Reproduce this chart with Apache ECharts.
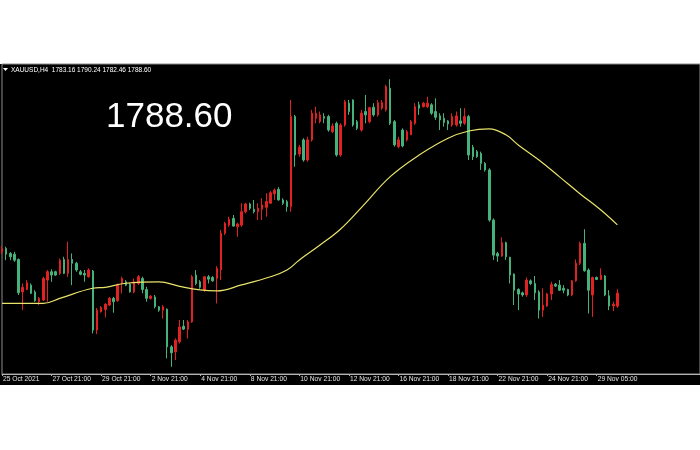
<!DOCTYPE html>
<html>
<head>
<meta charset="utf-8">
<script src="https://cdn.jsdelivr.net/npm/echarts@6/dist/echarts.min.js"></script>
<style>
html,body{margin:0;padding:0;background:#fff;}
#c{width:700px;height:450px;background:linear-gradient(#fff 0,#fff 64px,#000 64px,#000 385px,#fff 385px);}
</style>
</head>
<body>
<div id="c"></div>
<script>
// ---- data (XAUUSD H4) ----
const xTickLabels = ['25 Oct 2021','27 Oct 21:00','29 Oct 21:00','2 Nov 21:00','4 Nov 21:00','8 Nov 21:00','10 Nov 21:00','12 Nov 21:00','16 Nov 21:00','18 Nov 21:00','22 Nov 21:00','24 Nov 21:00','29 Nov 05:00'];
const tradingDays = ['25 Oct','26 Oct','27 Oct','28 Oct','29 Oct','1 Nov','2 Nov','3 Nov','4 Nov','5 Nov','8 Nov','9 Nov','10 Nov','11 Nov','12 Nov','15 Nov','16 Nov','17 Nov','18 Nov','19 Nov','22 Nov','23 Nov','24 Nov','25 Nov','26 Nov','29 Nov','30 Nov'];
const barsPerDay = [1,6,6,6,6,6,6,6,6,6,6,6,6,6,6,6,6,6,6,6,6,6,6,6,4,6,1];
const hourSlots = ['01:00','05:00','09:00','13:00','17:00','21:00'];

const opens = [1805.8,1807.2,1805.1,1804.8,1802.6,1789.1,1790.1,1791.9,1789.1,1785.0,
1785.7,1794.0,1797.5,1797.5,1796.8,1802.6,1796.8,1802.6,1801.0,1797.5,
1796.8,1795.4,1797.8,1773.2,1780.8,1781.8,1783.6,1786.4,1785.4,1792.6,
1793.3,1792.3,1789.1,1792.6,1794.7,1790.1,1786.4,1787.0,1782.9,1781.5,
1781.9,1766.2,1764.1,1768.3,1774.8,1773.5,1776.6,1796.1,1793.3,1789.8,
1795.4,1795.1,1794.7,1798.2,1813.5,1816.9,1819.7,1816.2,1816.9,1822.5,
1825.7,1823.5,1822.5,1823.5,1824.3,1826.0,1829.9,1831.8,1827.4,1826.7,
1824.6,1862.1,1846.5,1852.4,1844.0,1852.4,1861.4,1860.0,1862.1,1862.1,
1855.8,1859.3,1846.1,1858.6,1867.7,1869.0,1860.0,1856.5,1864.2,1860.0,
1866.0,1862.8,1865.6,1864.9,1873.9,1860.0,1849.6,1856.5,1852.4,1854.5,
1859.3,1867.0,1866.2,1866.2,1867.0,1864.2,1862.4,1861.4,1860.3,1858.6,
1858.6,1860.3,1859.3,1862.1,1849.3,1847.5,1846.8,1842.6,1839.9,1819.0,
1805.1,1804.0,1809.6,1803.5,1796.5,1790.1,1788.7,1787.8,1793.7,1792.6,
1789.1,1781.5,1783.2,1788.2,1792.3,1791.9,1790.6,1790.1,1787.8,1793.7,
1801.0,1809.3,1798.2,1787.8,1795.1,1794.3,1795.7,1787.5,1783.2,1783.16];
const closes = [1807.2,1804.8,1803.7,1802.3,1788.7,1791.0,1792.9,1788.5,1785.4,1786.4,
1794.7,1797.5,1796.1,1796.1,1802.3,1796.8,1802.6,1801.0,1798.2,1796.4,
1796.1,1798.2,1773.2,1781.5,1782.6,1784.0,1786.4,1785.0,1791.9,1794.7,
1791.9,1789.1,1793.3,1795.4,1790.1,1786.4,1787.3,1782.9,1781.5,1782.9,
1766.2,1763.7,1769.0,1774.5,1773.6,1776.6,1795.4,1792.6,1791.0,1795.4,
1794.4,1793.7,1798.9,1813.5,1817.6,1819.3,1816.5,1817.4,1822.5,1825.7,
1823.9,1822.5,1823.9,1825.3,1826.7,1830.4,1831.5,1827.4,1826.0,1824.6,
1862.1,1846.1,1849.3,1844.0,1852.4,1863.5,1863.5,1862.8,1861.4,1856.5,
1858.2,1846.1,1858.6,1868.3,1864.2,1858.6,1857.2,1863.5,1862.8,1865.8,
1862.8,1867.9,1867.9,1874.6,1859.3,1850.3,1852.4,1849.9,1855.8,1860.0,
1866.2,1865.6,1867.7,1867.7,1863.5,1861.8,1860.7,1859.6,1859.0,1862.1,
1862.4,1859.3,1862.1,1846.1,1845.4,1845.4,1842.6,1839.9,1819.0,1804.4,
1804.0,1809.6,1803.7,1796.1,1789.8,1788.2,1787.8,1794.0,1792.6,1788.7,
1781.5,1783.6,1788.2,1792.2,1791.5,1789.8,1789.8,1787.8,1793.7,1801.0,
1809.3,1797.9,1789.8,1795.1,1794.3,1796.1,1787.8,1783.2,1784.0,1788.60];
const lows = [1804.8,1802.3,1802.3,1801.6,1787.8,1781.5,1789.8,1788.2,1785.0,1783.6,
1785.3,1785.0,1793.3,1795.7,1796.1,1796.5,1795.4,1791.9,1797.5,1796.0,
1793.3,1795.0,1771.8,1771.5,1780.5,1778.5,1783.2,1780.4,1785.0,1788.5,
1791.5,1788.8,1788.5,1791.9,1788.5,1785.0,1785.9,1782.2,1780.8,1778.0,
1761.4,1757.9,1760.7,1767.6,1773.2,1769.7,1776.2,1791.9,1790.4,1789.1,
1792.6,1793.3,1784.3,1794.0,1812.8,1816.2,1816.2,1812.1,1816.2,1821.8,
1823.2,1821.8,1819.0,1819.0,1820.4,1825.7,1827.4,1827.1,1825.3,1822.5,
1822.5,1841.2,1845.4,1843.3,1843.3,1851.7,1859.3,1859.3,1859.3,1855.8,
1855.2,1845.4,1845.4,1857.9,1862.8,1857.9,1856.5,1855.8,1859.3,1859.3,
1862.1,1862.1,1864.9,1864.2,1858.6,1849.6,1848.9,1849.3,1851.7,1854.5,
1858.6,1862.8,1865.9,1865.6,1862.8,1860.7,1856.5,1857.9,1856.5,1857.9,
1857.9,1857.9,1858.6,1844.0,1844.0,1844.9,1839.9,1839.2,1818.3,1802.4,
1801.6,1803.7,1802.4,1792.6,1783.6,1781.5,1787.1,1787.0,1791.9,1785.7,
1778.0,1778.7,1782.9,1785.7,1791.1,1789.5,1788.5,1787.3,1787.3,1793.3,
1800.3,1797.5,1780.1,1778.7,1794.0,1794.0,1787.3,1781.5,1781.1,1782.46];
const highs = [1808.2,1807.9,1805.7,1805.8,1803.0,1792.6,1794.0,1792.6,1789.8,1787.0,
1795.4,1798.2,1798.5,1797.9,1803.0,1803.7,1810.0,1805.1,1801.6,1798.2,
1798.2,1798.9,1798.2,1782.4,1783.2,1784.3,1787.0,1787.0,1792.6,1795.4,
1794.0,1792.8,1794.7,1796.1,1795.4,1791.2,1787.8,1787.8,1783.2,1783.6,
1782.2,1766.9,1769.7,1777.4,1777.4,1777.4,1796.1,1798.2,1794.0,1795.7,
1796.1,1795.7,1799.8,1814.9,1818.3,1820.4,1821.1,1817.9,1826.0,1826.2,
1826.2,1827.4,1826.0,1828.1,1830.2,1831.1,1832.2,1832.7,1828.1,1827.4,
1869.0,1862.8,1850.3,1853.1,1853.7,1864.9,1866.2,1864.2,1863.5,1862.8,
1859.3,1860.0,1859.3,1869.0,1869.0,1869.3,1860.7,1864.9,1871.1,1866.2,
1867.7,1869.0,1869.0,1875.3,1877.7,1860.7,1853.7,1857.2,1856.5,1860.7,
1867.7,1868.3,1868.2,1870.4,1867.7,1869.7,1863.5,1863.5,1860.7,1863.5,
1864.2,1865.6,1865.6,1862.8,1850.3,1848.2,1847.5,1843.2,1840.6,1819.7,
1805.8,1811.8,1810.0,1803.7,1796.8,1790.6,1789.2,1795.1,1794.3,1795.7,
1789.8,1790.6,1788.7,1793.3,1792.8,1794.0,1791.9,1790.4,1794.0,1802.6,
1810.0,1815.2,1798.9,1795.4,1795.5,1798.9,1796.1,1789.8,1785.0,1790.24];
// moving average (bar index, value)
const maBars   = [0,10,14,22,25,30,38,43,48,52,58,65,69,72,77,82,87,94,101,108,113,118,122,125,130,135,140,145,149];
const maValues = [1784.3,1784.3,1786.4,1790.6,1791.0,1792.7,1793.3,1791.4,1789.9,1789.5,1792.0,1795.4,1798.2,1802.4,1808.6,1815.3,1824.2,1837.1,1846.1,1853.1,1856.1,1857.0,1854.5,1850.3,1844.0,1837.0,1829.9,1823.2,1817.0];
const totalSlots = 170;

// ---- build ----
const categories = [];
tradingDays.forEach((d, k) => {
  const n = barsPerDay[k];
  const start = (k === 0) ? 6 - n : 0;
  for (let h = start; h < start + n; h++) categories.push(d + ' ' + hourSlots[h]);
});
categories.length = Math.min(categories.length, opens.length);
while (categories.length < totalSlots) categories.push('');

const candleData = opens.map((o, i) => [o, closes[i], lows[i], highs[i]]);
const maData = maBars.map((b, k) => [b, maValues[k]]);
const tickShown = (idx) => idx % 12 === 0 && idx / 12 < xTickLabels.length;

const chart = echarts.init(document.getElementById('c'), null, {renderer: 'canvas'});
chart.setOption({
  animation: false,
  backgroundColor: 'transparent',
  grid: {left: 1, right: -2, top: 64, bottom: 76, show: true, borderColor: '#8c8c8c', borderWidth: 1, backgroundColor: 'transparent'},
  xAxis: {
    type: 'category', data: categories, boundaryGap: false,
    axisLine: {lineStyle: {color: '#b4b4b4', width: 1}},
    axisTick: {show: true, length: 2, interval: tickShown, lineStyle: {color: '#b4b4b4'}},
    axisLabel: {
      interval: tickShown, align: 'left', margin: 2, padding: [0, 0, 0, 1],
      color: '#e6e6e6', fontSize: 6.7, fontFamily: 'Liberation Sans',
      formatter: (v, idx) => xTickLabels[idx / 12] || ''
    },
    splitLine: {show: false}
  },
  yAxis: {type: 'value', min: 1754.9, max: 1884.0, show: false, splitLine: {show: false}},
  series: [
    {
      type: 'candlestick', data: candleData, barWidth: 2,
      itemStyle: {color: '#e12222', color0: '#45b27c', borderColor: '#e12222', borderColor0: '#45b27c', borderWidth: 1},
      z: 3
    },
    {
      type: 'line', data: maData, smooth: 0.4, showSymbol: false, symbol: 'none',
      lineStyle: {color: '#e9e36b', width: 1.2}, z: 4
    }
  ],
  graphic: [
    {type: 'polygon', shape: {points: [[3, 68], [8, 68], [5.5, 71]]}, style: {fill: '#ffffff'}},
    {type: 'text', style: {text: 'XAUUSD,H4  1783.16 1790.24 1782.46 1788.60', x: 11, y: 70.3, verticalAlign: 'middle', fill: '#ffffff', font: '6.5px "Liberation Sans"'}},
    {type: 'text', style: {text: '1788.60', x: 106, y: 117, verticalAlign: 'middle', fill: '#ffffff', font: '35px "Liberation Sans"'}}
  ]
});
</script>
</body>
</html>
